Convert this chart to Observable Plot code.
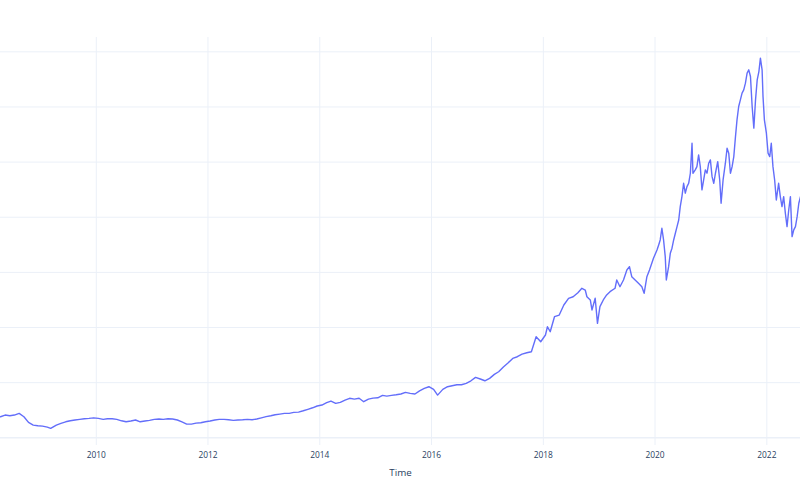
<!DOCTYPE html>
<html>
<head>
<meta charset="utf-8">
<script src="https://cdn.jsdelivr.net/npm/d3@7"></script>
<script src="https://cdn.jsdelivr.net/npm/@observablehq/plot@0.6"></script>
<style>
  html, body { margin: 0; padding: 0; background: #ffffff; }
  #chart svg { display: block; }
</style>
</head>
<body>
<div id="chart"></div>
<script>
const dates = [
  "2008-04-15","2008-05-15","2008-06-15","2008-07-15","2008-08-15","2008-09-15","2008-10-15","2008-11-15","2008-12-15",
  "2009-01-15","2009-02-15","2009-03-09","2009-04-15","2009-05-15","2009-06-15","2009-07-15","2009-08-15","2009-09-15","2009-10-15","2009-11-15","2009-12-15",
  "2010-01-15","2010-02-15","2010-03-15","2010-04-15","2010-05-15","2010-06-15","2010-07-15","2010-08-15","2010-09-15","2010-10-15","2010-11-15","2010-12-15",
  "2011-01-15","2011-02-15","2011-03-15","2011-04-15","2011-05-15","2011-06-15","2011-07-15","2011-08-15","2011-09-15","2011-10-15","2011-11-15","2011-12-15",
  "2012-01-15","2012-02-15","2012-03-15","2012-04-15","2012-05-15","2012-06-15","2012-07-15","2012-08-15","2012-09-15","2012-10-15","2012-11-15","2012-12-15",
  "2013-01-15","2013-02-15","2013-03-15","2013-04-15","2013-05-15","2013-06-15","2013-07-15","2013-08-15","2013-09-15","2013-10-15","2013-11-15","2013-12-15",
  "2014-01-15","2014-02-15","2014-03-15","2014-04-15","2014-05-15","2014-06-15","2014-07-15","2014-08-15","2014-09-15","2014-10-15","2014-11-15","2014-12-15",
  "2015-01-15","2015-02-15","2015-03-15","2015-04-15","2015-05-15","2015-06-15","2015-07-15","2015-08-15","2015-09-15","2015-10-15","2015-11-15","2015-12-15",
  "2016-01-15","2016-02-10","2016-03-15","2016-04-15","2016-05-15","2016-06-15","2016-07-15","2016-08-15","2016-09-15","2016-10-15","2016-11-15","2016-12-15",
  "2017-01-15","2017-02-15","2017-03-15","2017-04-15","2017-05-15","2017-06-15","2017-07-15","2017-08-15","2017-09-15","2017-10-15","2017-11-15","2017-12-15",
  "2018-01-15","2018-01-28","2018-02-15","2018-03-15","2018-04-15","2018-05-15","2018-06-15","2018-07-15","2018-08-15","2018-09-10","2018-10-02","2018-10-13","2018-11-04","2018-11-15","2018-12-06","2018-12-21",
  "2019-01-06","2019-01-28","2019-02-19","2019-03-13","2019-04-15","2019-04-26","2019-05-17","2019-06-09","2019-07-01","2019-07-18","2019-08-02","2019-08-24","2019-09-15","2019-10-07","2019-10-22","2019-11-09","2019-11-26","2019-12-22",
  "2020-01-14","2020-01-25","2020-02-04","2020-02-15","2020-02-26","2020-03-08","2020-03-15","2020-03-30","2020-04-10","2020-04-21","2020-05-02","2020-05-13","2020-05-24","2020-06-04","2020-06-14","2020-06-25","2020-07-06","2020-07-17","2020-07-28","2020-08-08","2020-08-19","2020-08-30","2020-09-05","2020-09-20","2020-10-01","2020-10-12","2020-10-23","2020-11-03","2020-11-14","2020-11-25","2020-12-06","2020-12-17","2020-12-28",
  "2021-01-08","2021-01-19","2021-01-30","2021-02-14","2021-02-27","2021-03-08","2021-03-21","2021-04-05","2021-04-16","2021-04-27","2021-05-08","2021-05-19","2021-05-30","2021-06-10","2021-06-20","2021-07-01","2021-07-12","2021-07-23","2021-08-03","2021-08-14","2021-08-25","2021-09-05","2021-09-16","2021-09-27","2021-10-08","2021-10-19","2021-10-30","2021-11-10","2021-11-20","2021-12-01","2021-12-07","2021-12-16","2021-12-29",
  "2022-01-09","2022-01-20","2022-01-30","2022-02-10","2022-02-21","2022-03-04","2022-03-19","2022-03-30","2022-04-10","2022-04-21","2022-05-02","2022-05-13","2022-05-24","2022-06-04","2022-06-15","2022-06-26","2022-07-07","2022-07-18","2022-07-29","2022-08-09"
];

const values = [
  19.1,20.6,20.0,20.6,22.1,19.1,14.0,11.5,10.9,
  10.6,9.7,8.5,11.5,13.1,14.5,15.4,16.1,16.7,17.2,17.6,18.1,
  17.6,16.7,17.2,17.2,16.7,15.4,14.5,15.2,16.1,14.5,15.2,15.8,
  16.7,17.0,16.7,17.2,17.0,16.1,14.5,12.4,12.4,13.3,13.6,14.5,
  15.2,16.1,16.7,16.7,16.3,15.8,16.1,16.3,16.7,16.3,17.0,18.1,
  19.2,20.0,20.9,21.5,22.1,22.1,23.0,23.3,24.5,25.8,27.2,28.8,
  29.7,31.8,33.3,31.2,32.1,34.2,35.8,35.1,35.8,32.7,35.1,36.0,
  36.3,38.5,37.8,38.5,39.0,39.7,41.2,40.3,39.7,42.6,44.8,46.3,
  43.9,38.7,43.9,46.3,47.2,48.1,48.1,49.4,51.7,54.8,53.3,51.7,
  53.9,57.5,59.9,64.2,67.8,72.0,73.5,75.9,77.1,78.0,91.6,87.1,
  93.2,100.7,96.2,109.8,111.3,120.4,126.5,127.9,131.6,135.6,134.0,127.9,125.0,115.9,126.5,103.8,
  118.9,125.0,129.5,132.5,135.6,143.1,137.0,143.1,152.2,155.2,146.1,143.1,140.1,137.0,131.0,146.1,152.2,162.8,
  170.3,174.9,179.4,190.0,179.4,164.2,143.1,155.2,167.3,171.9,179.4,185.5,191.5,197.5,209.6,218.7,230.8,221.8,227.8,230.8,239.9,267.1,239.9,242.9,245.9,256.5,245.9,224.8,233.8,242.9,239.9,249.0,252.0,
  236.8,230.8,239.9,250.4,233.8,212.7,233.8,249.0,262.6,258.1,239.9,245.9,255.0,273.1,288.3,300.4,306.4,312.5,315.5,321.6,330.7,333.7,327.6,300.4,280.8,306.4,324.6,332.1,344.3,333.7,309.4,288.3,276.2,
  258.1,255.0,267.1,245.9,233.8,215.7,230.8,218.7,209.6,218.7,203.6,191.5,206.6,218.7,182.4,188.5,191.5,200.5,212.7,218.7
];

const yGrid = [0, 50, 100, 150, 200, 250, 300, 350];
const xTickYears = ["2010","2012","2014","2016","2018","2020","2022"];
const xLabel = "Time";

const parse = d3.utcParse("%Y-%m-%d");
const data = dates.map((d, i) => ({date: parse(d), value: values[i]}));
const xTicks = xTickYears.map(y => d3.utcParse("%Y")(y));

const font = "'Open Sans', 'DejaVu Sans', sans-serif";
const ink = "#2a3f5f";
const gridColor = "#EBF0F8";

const chart = Plot.plot({
  width: 800,
  height: 500,
  marginTop: 37,
  marginBottom: 55,
  marginLeft: 0,
  marginRight: 0,
  style: {fontFamily: font, background: "#ffffff", overflow: "visible"},
  x: {type: "utc", domain: d3.extent(data, d => d.date)},
  y: {domain: [-7, 363]},
  marks: [
    Plot.ruleY(yGrid.filter(v => v !== 0), {stroke: gridColor, strokeWidth: 1}),
    Plot.ruleX(xTicks, {stroke: gridColor, strokeWidth: 1}),
    Plot.ruleY([0], {stroke: gridColor, strokeWidth: 1.6}),
    Plot.line(data, {x: "date", y: "value", stroke: "#636efa", strokeWidth: 1.4, curve: "linear"}),
    Plot.axisX({ticks: xTicks, tickSize: 0, tickPadding: 7, tickFormat: d3.utcFormat("%Y"),
      fontSize: 8.4, fill: ink, label: null}),
    Plot.axisY({ticks: [], label: null}),
    Plot.text([xLabel], {frameAnchor: "bottom", dy: 27, lineAnchor: "middle",
      fontSize: 9.8, fill: ink, fontFamily: font})
  ]
});
document.getElementById("chart").appendChild(chart);
</script>
</body>
</html>
